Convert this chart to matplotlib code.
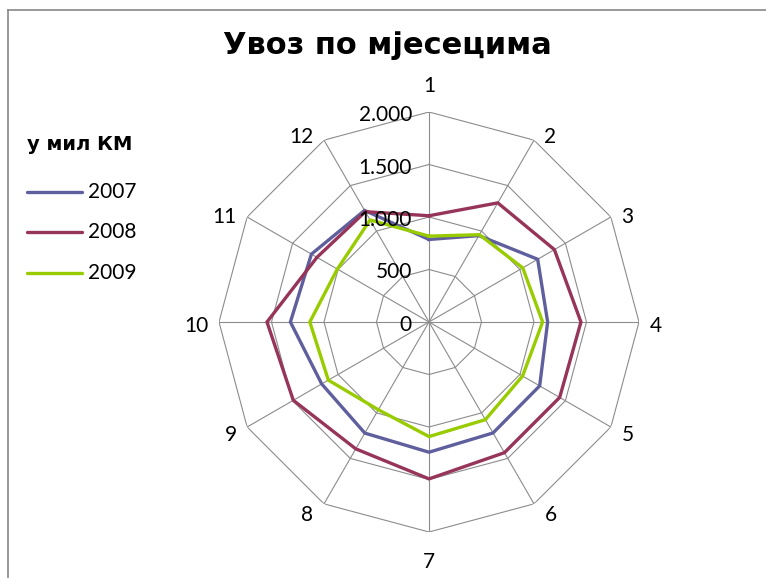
import numpy as np
import matplotlib
matplotlib.use("Agg")
import matplotlib.pyplot as plt
from matplotlib.lines import Line2D
import matplotlib.transforms as mtransforms

categories = ["1", "2", "3", "4", "5", "6", "7", "8", "9", "10", "11", "12"]
series_names = ["2007", "2008", "2009"]
v2007 = [786, 950, 1195, 1130, 1217, 1220, 1240, 1222, 1180, 1320, 1293, 1227]
v2008 = [1012, 1310, 1379, 1447, 1437, 1437, 1494, 1395, 1492, 1543, 1232, 1213]
v2009 = [818, 960, 1031, 1082, 1029, 1074, 1091, 965, 1107, 1135, 1008, 1122]
r_ticks = [0, 500, 1000, 1500, 2000]
r_tick_labels = ["0", "500", "1.000", "1.500", "2.000"]
title = "Увоз по мјесецима"
legend_title = "у мил КМ"
colors = ["#5F5F9E", "#963459", "#99CC00"]

W, H = 766, 578
fig = plt.figure(figsize=(W / 100, H / 100), dpi=100)
cx, cy, R = 429, 322, 210
ax = fig.add_axes([(cx - R) / W, (H - cy - R) / H, 2 * R / W, 2 * R / H], projection="polar")
ax.set_theta_zero_location("N")
ax.set_theta_direction(-1)
ax.set_ylim(0, 2000)
ax.grid(False)
ax.spines["polar"].set_visible(False)
ax.set_xticks([])
ax.set_yticks([])
ax.patch.set_alpha(0)

n = len(categories)
theta = np.arange(n) * 2 * np.pi / n
theta_closed = np.append(theta, theta[0])

grid_color = "#8C8C8C"
for rv in r_ticks[1:]:
    ax.plot(theta_closed, [rv] * (n + 1), color=grid_color, lw=0.8, zorder=1)
for t in theta:
    ax.plot([t, t], [0, r_ticks[-1]], color=grid_color, lw=0.8, zorder=1)

for vals, c, name in zip([v2007, v2008, v2009], colors, series_names):
    ax.plot(theta_closed, list(vals) + [vals[0]], color=c, lw=2.4, zorder=3,
            solid_joinstyle="miter", label=name)

font = "Lato"
off = mtransforms.offset_copy(ax.transData, fig=fig, x=-17, y=-3, units="dots")
for rv, lab in zip(r_ticks, r_tick_labels):
    ax.text(0, rv, lab, transform=off, ha="right", va="center",
            fontsize=15, family=font, zorder=4)

rmax = r_ticks[-1]
for t, lab in zip(theta, categories):
    s, c = np.sin(t), np.cos(t)
    if abs(s) < 1e-6:
        ha = "center"
        dx = 0
        dy = 26 if c > 0 else -30
    else:
        ha = "left" if s > 0 else "right"
        dx = 10.5 if s > 0 else -10.5
        dy = -(4 - 8 * c)
    tr = mtransforms.offset_copy(ax.transData, fig=fig, x=dx, y=dy, units="dots")
    ax.text(t, rmax, lab, transform=tr, ha=ha, va="center", fontsize=15, family=font)

fig.text(387 / W, 1 - 45 / H, title, ha="center", va="center",
         fontsize=22, fontweight="bold", family="DejaVu Sans")

fig.text(27 / W, 1 - 145 / H, legend_title, ha="left", va="center",
         fontsize=14, fontweight="bold", family="DejaVu Sans")
leg_y = [192, 232, 273]
for yy, c, name in zip(leg_y, colors, series_names):
    fig.add_artist(Line2D([27 / W, 82 / W], [1 - yy / H, 1 - yy / H], color=c, lw=2.4,
                          solid_capstyle="round", transform=fig.transFigure))
    fig.text(88 / W, 1 - yy / H, name, ha="left", va="center", fontsize=15, family=font)

border = "#888888"
fig.add_artist(Line2D([8 / W, 1.0], [1 - 10 / H, 1 - 10 / H], color=border, lw=1.2,
                      transform=fig.transFigure))
fig.add_artist(Line2D([8 / W, 8 / W], [1 - 10 / H, 0], color=border, lw=1.2,
                      transform=fig.transFigure))

fig.savefig("out.png", dpi=100)
